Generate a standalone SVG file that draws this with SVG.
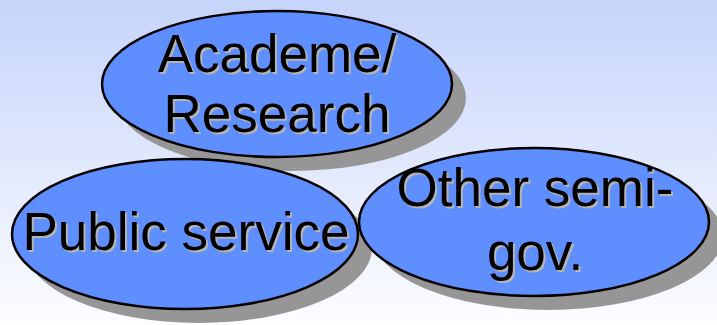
<svg xmlns="http://www.w3.org/2000/svg" width="717" height="325" viewBox="0 0 717 325">
<defs>
<linearGradient id="bg" x1="0" y1="0" x2="0" y2="1">
<stop offset="0" stop-color="#C6D4FB"/>
<stop offset="1" stop-color="#FCFDFF"/>
</linearGradient>
</defs>
<style>
.sh{fill:#969696;stroke:none}
.el{fill:#5F8FFF;stroke:#000;stroke-width:2.5}
.t{font-family:"Liberation Sans",Arial,sans-serif;font-size:53px;text-anchor:middle;fill:#000}
.ts{font-family:"Liberation Sans",Arial,sans-serif;font-size:53px;text-anchor:middle;fill:#B4B4B4}
</style>
<rect width="717" height="325" fill="url(#bg)"/>
<g id="connectors"></g>
<g id="academe">
<ellipse class="sh" cx="291" cy="98" rx="175" ry="73"/>
<ellipse class="el" cx="277" cy="84" rx="175" ry="73"/>
<text class="ts" x="279" y="74">Academe/</text>
<text class="t" x="277" y="72">Academe/</text>
<text class="ts" x="279" y="134">Research</text>
<text class="t" x="277" y="132">Research</text>
</g>
<g id="public">
<ellipse class="sh" cx="199" cy="248" rx="173" ry="75"/>
<ellipse class="el" cx="185" cy="234" rx="173" ry="75"/>
<text class="ts" x="188" y="252">Public service</text>
<text class="t" x="186" y="250">Public service</text>
</g>
<g id="other">
<ellipse class="sh" cx="548" cy="236" rx="175" ry="74"/>
<ellipse class="el" cx="534" cy="222" rx="175" ry="74"/>
<text class="ts" x="537" y="208">Other semi-</text>
<text class="t" x="535" y="206">Other semi-</text>
<text class="ts" x="537" y="272">gov.</text>
<text class="t" x="535" y="270">gov.</text>
</g>
</svg>
